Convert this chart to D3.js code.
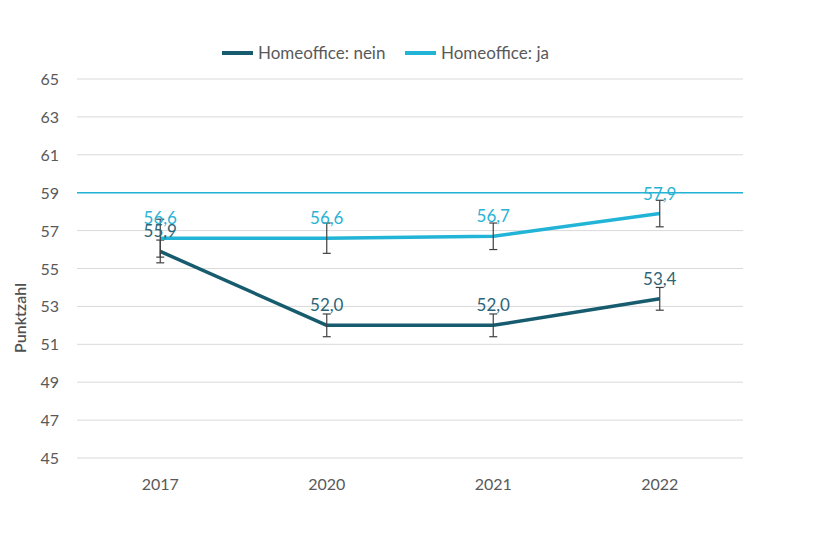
<!DOCTYPE html>
<html>
<head>
<meta charset="utf-8">
<script src="https://cdn.jsdelivr.net/npm/d3@7"></script>
<style>
  body { margin: 0; background: #fff; }
  svg { font-family: Lato, "Open Sans", sans-serif; }
</style>
</head>
<body>
<script>
// data
var years = ["2017", "2020", "2021", "2022"];
var nein = [55.9, 52.0, 52.0, 53.4];
var neinErr = [0.6, 0.6, 0.6, 0.6];
var ja = [56.6, 56.6, 56.7, 57.9];
var jaErr = [1.0, 0.8, 0.7, 0.7];
var yTicks = [45, 47, 49, 51, 53, 55, 57, 59, 61, 63, 65];
var refValue = 59;
var seriesNames = ["Homeoffice: nein", "Homeoffice: ja"];

var w = 820, h = 560;
var colNein = "#175b6f", colJa = "#22b4d6";

var svg = d3.select("body").append("svg")
            .attr("width", w).attr("height", h);

var x = d3.scalePoint().domain(years).range([77, 743]).padding(0.5);
var y = d3.scaleLinear().domain([45, 65]).range([458, 79]);

// gridlines
svg.append("g").selectAll("line").data(yTicks).enter().append("line")
   .attr("x1", 77).attr("x2", 743)
   .attr("y1", function(d){ return y(d); }).attr("y2", function(d){ return y(d); })
   .style("stroke", "#d9d9d9").style("stroke-width", 1);

// y tick labels
svg.append("g").selectAll("text").data(yTicks).enter().append("text")
   .attr("x", 59).attr("y", function(d){ return y(d) + 6; })
   .attr("text-anchor", "end").style("font-size", "16px").style("fill", "#595959")
   .text(function(d){ return d; });

// x labels
svg.append("g").selectAll("text").data(years).enter().append("text")
   .attr("x", function(d){ return x(d); }).attr("y", 490)
   .attr("text-anchor", "middle").style("font-size", "16px").style("fill", "#595959")
   .text(function(d){ return d; });

// axis title
svg.append("text")
   .attr("transform", "translate(26,318) rotate(-90)")
   .attr("text-anchor", "middle").style("font-size", "16px").style("font-weight", "600")
   .style("fill", "#505050")
   .text("Punktzahl");

// reference line
svg.append("line")
   .attr("x1", 77).attr("x2", 743)
   .attr("y1", y(refValue)).attr("y2", y(refValue))
   .style("stroke", colJa).style("stroke-width", 1.5);

var line = d3.line()
   .x(function(d, i){ return x(years[i]); })
   .y(function(d){ return y(d); });

function drawSeries(vals, errs, col) {
  var g = svg.append("g");
  g.append("path").datum(vals).attr("d", line)
   .style("fill", "none").style("stroke", col).style("stroke-width", 3.5)
   .style("stroke-linejoin", "round");
  // error bars
  vals.forEach(function(v, i){
    var cx = x(years[i]);
    var top = y(v + errs[i]), bot = y(v - errs[i]);
    g.append("line").attr("x1", cx).attr("x2", cx).attr("y1", top).attr("y2", bot)
     .style("stroke", "#404040").style("stroke-width", 1.2);
    [top, bot].forEach(function(yy){
      g.append("line").attr("x1", cx - 4).attr("x2", cx + 4).attr("y1", yy).attr("y2", yy)
       .style("stroke", "#404040").style("stroke-width", 1.2);
    });
  });
}

function drawLabels(vals, col) {
  svg.append("g").selectAll("text").data(vals).enter().append("text")
     .attr("x", function(d, i){ return x(years[i]); })
     .attr("y", function(d){ return y(d) - 14; })
     .attr("text-anchor", "middle").style("font-size", "17px").style("fill", col)
     .text(function(d){ return d.toFixed(1).replace(".", ","); });
}

drawSeries(nein, neinErr, colNein);
drawSeries(ja, jaErr, colJa);
drawLabels(nein, "#2b6577");
drawLabels(ja, "#2ab3d4");

// legend
var leg = svg.append("g");
var legItems = [
  {name: seriesNames[0], col: colNein, x: 222},
  {name: seriesNames[1], col: colJa, x: 405}
];
legItems.forEach(function(it){
  leg.append("line").attr("x1", it.x).attr("x2", it.x + 31).attr("y1", 53).attr("y2", 53)
     .style("stroke", it.col).style("stroke-width", 4);
  leg.append("text").attr("x", it.x + 36).attr("y", 59)
     .style("font-size", "17px").style("fill", "#595959").text(it.name);
});
</script>
</body>
</html>
